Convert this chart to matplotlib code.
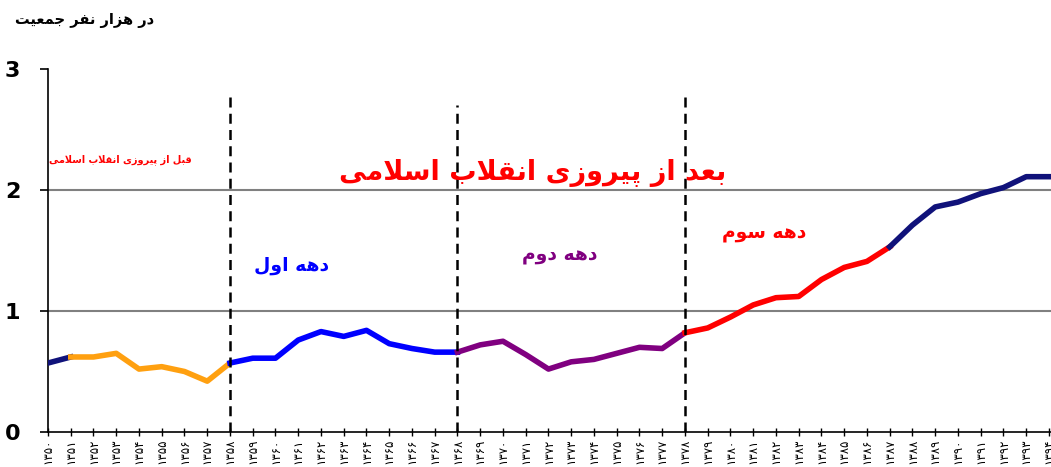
import numpy as np
from matplotlib import pyplot as plt

plt.rcParams['font.family'] = ['DejaVu Sans']

# rate per thousand population, by Persian (solar hijri) year
years = list(range(1350, 1395))
rate = [0.57, 0.62, 0.62, 0.65, 0.52, 0.54, 0.50, 0.42, 0.57, 0.61,
        0.61, 0.76, 0.83, 0.79, 0.84, 0.73, 0.69, 0.66, 0.66, 0.72,
        0.75, 0.64, 0.52, 0.58, 0.60, 0.65, 0.70, 0.69, 0.82, 0.86,
        0.95, 1.05, 1.11, 1.12, 1.26, 1.36, 1.41, 1.53, 1.71, 1.86,
        1.90, 1.97, 2.02, 2.11, 2.11]

# colour segments: (first year, last year)
segments = [(1350, 1351), (1351, 1358), (1358, 1368), (1368, 1378),
            (1378, 1387), (1387, 1394)]
seg_colors = ['#10127a', '#ffa010', '#0000ff', '#800080', '#ff0000', '#10127a']

# decade borders and how high the dashed lines reach
borders = [1358, 1368, 1378]
border_tops = [2.77, 2.70, 2.81]

y_ticks = [0, 1, 2, 3]
grid_levels = [1, 2]

caption = 'در هزار نفر جمعیت'
before_label = 'قبل از پیروزی انقلاب اسلامی'
after_label = 'بعد از پیروزی انقلاب اسلامی'
decade_labels = ['دهه اول', 'دهه دوم', 'دهه سوم']

# --- minimal arabic shaping (matplotlib does no shaping / bidi) ---
FORMS = {
    '\u0627': (0xFE8D, 0xFE8E, None, None),      # alef
    '\u0628': (0xFE8F, 0xFE90, 0xFE91, 0xFE92),  # beh
    '\u062A': (0xFE95, 0xFE96, 0xFE97, 0xFE98),  # teh
    '\u062C': (0xFE9D, 0xFE9E, 0xFE9F, 0xFEA0),  # jeem
    '\u062F': (0xFEA9, 0xFEAA, None, None),      # dal
    '\u0631': (0xFEAD, 0xFEAE, None, None),      # reh
    '\u0632': (0xFEAF, 0xFEB0, None, None),      # zain
    '\u0633': (0xFEB1, 0xFEB2, 0xFEB3, 0xFEB4),  # seen
    '\u0639': (0xFEC9, 0xFECA, 0xFECB, 0xFECC),  # ain
    '\u0641': (0xFED1, 0xFED2, 0xFED3, 0xFED4),  # feh
    '\u0642': (0xFED5, 0xFED6, 0xFED7, 0xFED8),  # qaf
    '\u0644': (0xFEDD, 0xFEDE, 0xFEDF, 0xFEE0),  # lam
    '\u0645': (0xFEE1, 0xFEE2, 0xFEE3, 0xFEE4),  # meem
    '\u0646': (0xFEE5, 0xFEE6, 0xFEE7, 0xFEE8),  # noon
    '\u0647': (0xFEE9, 0xFEEA, 0xFEEB, 0xFEEC),  # heh
    '\u0648': (0xFEED, 0xFEEE, None, None),      # waw
    '\u06CC': (0xFBFC, 0xFBFD, 0xFBFE, 0xFBFF),  # farsi yeh
    '\u067E': (0xFB56, 0xFB57, 0xFB58, 0xFB59),  # peh
}


def shape(text):
    out = []
    i = 0
    while i < len(text):
        c = text[i]
        if c not in FORMS:
            out.append(c)
            i += 1
            continue
        prev = text[i-1] if i > 0 else None
        prev_joins = prev in FORMS and FORMS[prev][2] is not None
        if c == '\u0644' and i + 1 < len(text) and text[i+1] == '\u0627':
            out.append(chr(0xFEFC if prev_joins else 0xFEFB))
            i += 2
            continue
        nxt = text[i+1] if i + 1 < len(text) else None
        iso, fin, ini, med = FORMS[c]
        next_joins = ini is not None and nxt in FORMS
        if prev_joins and next_joins:
            g = med
        elif prev_joins:
            g = fin
        elif next_joins:
            g = ini
        else:
            g = iso
        out.append(chr(g))
        i += 1
    return ''.join(reversed(out))


def fa_digits(n):
    return ''.join(chr(0x06F0 + int(d)) for d in str(n))


fig = plt.figure(figsize=(10.51, 4.67), dpi=100)
ax = fig.add_axes([48/1051, 35/467, 1003/1051, 363/467])

for lvl in grid_levels:
    ax.axhline(lvl, color='#808080', lw=1.5, zorder=1)

yr = np.array(years)
rt = np.array(rate)
for (a, b), col in zip(segments, seg_colors):
    m = (yr >= a) & (yr <= b)
    ax.plot(yr[m], rt[m], color=col, lw=4, solid_joinstyle='round', zorder=3)

for bx, top in zip(borders, border_tops):
    ax.plot([bx, bx], [0, top], color='black', lw=1.8, ls=(0, (4, 2.5)), zorder=4)

ax.set_xlim(1350, 1394.09)
ax.set_ylim(0, 3)
ax.set_yticks(y_ticks)
ax.set_yticklabels([str(t) for t in y_ticks], fontsize=16, fontweight='bold')
ax.set_xticks(years)
ax.set_xticklabels([fa_digits(y) for y in years], rotation=90, fontsize=8.5,
                   va='top', ha='center')
ax.tick_params(axis='y', direction='out', length=6, width=1.2, pad=14)
ax.tick_params(axis='x', direction='inout', length=6, width=1.0, pad=2)
for s in ['top', 'right']:
    ax.spines[s].set_visible(False)
ax.spines['left'].set_linewidth(1.2)
ax.spines['bottom'].set_linewidth(1.2)

ax.text(1371.3, 2.14, shape(after_label), color='#ff0000', fontsize=19.5,
        fontweight='bold', ha='center', va='center', zorder=5)
ax.text(1353.2, 2.25, shape(before_label), color='#ff0000', fontsize=7,
        fontweight='bold', ha='center', va='center', zorder=5)
decade_pos = [(1360.7, 1.38), (1372.5, 1.46), (1381.5, 1.64)]
decade_cols = ['#0000ff', '#800080', '#ff0000']
for lab, (px, py), col in zip(decade_labels, decade_pos, decade_cols):
    ax.text(px, py, shape(lab), color=col, fontsize=13.5, fontweight='bold',
            ha='center', va='center', zorder=5)

fig.text(85/1051, 1 - 20/467, shape(caption), fontsize=10.5, fontweight='bold',
         ha='center', va='center')

fig.savefig('out.png', dpi=100)
